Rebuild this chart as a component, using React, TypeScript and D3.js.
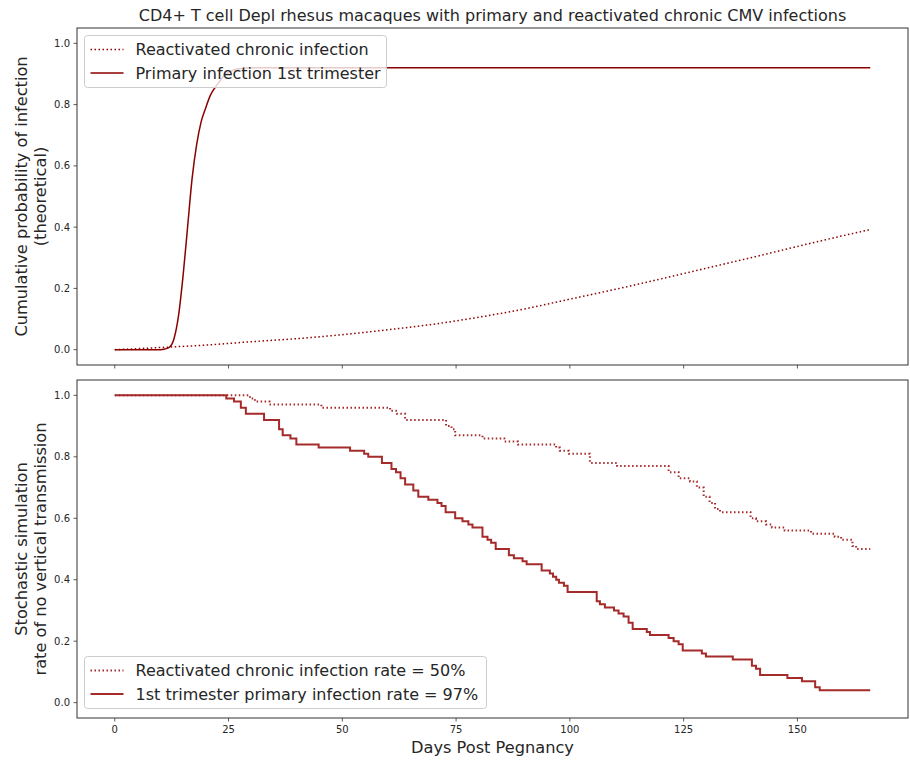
import React from "react";
import * as d3 from "d3";

// ---------- data ----------
const title = "CD4+ T cell Depl rhesus macaques with primary and reactivated chronic CMV infections";

// top panel: theoretical cumulative probability
const primaryDays = [0, 5, 10, 11, 12, 13, 14, 15, 16, 17, 18, 19, 20, 21, 22, 23, 24, 25, 26, 28, 30, 60, 100, 166];
const primaryProb = [0, 0, 0, 0.002, 0.008, 0.035, 0.11, 0.24, 0.4, 0.56, 0.67, 0.745, 0.79, 0.83, 0.855, 0.875, 0.895, 0.905, 0.912, 0.918, 0.92, 0.92, 0.92, 0.92];

const chronicDays = [0, 10, 20, 30, 40, 50, 60, 70, 80, 90, 100, 110, 120, 130, 140, 150, 160, 166];
const chronicProb = [0, 0.007, 0.015, 0.026, 0.036, 0.049, 0.065, 0.083, 0.106, 0.133, 0.165, 0.197, 0.231, 0.266, 0.301, 0.337, 0.372, 0.392];

// bottom panel: stochastic simulation (step changes)
const chronicStepDays = [0, 29.7, 30.8, 34.0, 45.4, 60.5, 62.0, 63.8, 72.8, 74.0, 74.8, 80.8, 85.6, 88.6, 97.0, 97.8, 99.8, 104.4, 110.4, 121.7, 123.9, 126.4, 127.9, 129.4, 130.7, 131.9, 133.0, 139.7, 140.9, 143.1, 144.4, 147.2, 153.0, 158.2, 159.6, 162.1, 162.9, 166];
const chronicStepVals = [1.0, 0.99, 0.98, 0.97, 0.96, 0.95, 0.94, 0.92, 0.9, 0.89, 0.87, 0.86, 0.85, 0.84, 0.83, 0.82, 0.81, 0.78, 0.77, 0.75, 0.73, 0.72, 0.7, 0.67, 0.65, 0.63, 0.62, 0.6, 0.59, 0.58, 0.57, 0.56, 0.55, 0.54, 0.53, 0.51, 0.5, 0.5];

const primaryStepDays = [0, 24.5, 26.2, 27.7, 28.8, 32.8, 36.1, 36.9, 38.6, 39.9, 44.8, 51.7, 54.8, 55.7, 58.7, 60.8, 61.8, 62.8, 63.8, 65.6, 66.7, 68.9, 70.9, 71.8, 72.7, 74.8, 76.4, 77.7, 78.6, 80.8, 81.9, 82.7, 83.7, 86.6, 87.7, 89.6, 90.5, 93.8, 95.6, 96.3, 97.0, 97.6, 98.7, 99.5, 105.9, 106.6, 107.7, 109.7, 110.7, 111.8, 112.9, 113.8, 116.9, 117.6, 121.7, 122.8, 123.9, 124.8, 129.0, 129.9, 135.8, 140.0, 140.9, 141.8, 147.8, 151.0, 153.9, 154.9, 166];
const primaryStepVals = [1.0, 0.99, 0.98, 0.96, 0.94, 0.92, 0.89, 0.87, 0.86, 0.84, 0.83, 0.82, 0.81, 0.8, 0.78, 0.76, 0.75, 0.73, 0.71, 0.69, 0.67, 0.66, 0.65, 0.64, 0.62, 0.6, 0.59, 0.58, 0.57, 0.54, 0.53, 0.52, 0.5, 0.48, 0.47, 0.46, 0.45, 0.43, 0.42, 0.41, 0.4, 0.39, 0.38, 0.36, 0.33, 0.32, 0.31, 0.3, 0.29, 0.28, 0.26, 0.24, 0.23, 0.22, 0.21, 0.2, 0.19, 0.17, 0.16, 0.15, 0.14, 0.12, 0.11, 0.09, 0.08, 0.07, 0.05, 0.04, 0.04];

const xTicks = [0, 25, 50, 75, 100, 125, 150];
const yTicks = [0, 0.2, 0.4, 0.6, 0.8, 1.0];

const topLegend = ["Reactivated chronic infection", "Primary infection 1st trimester"];
const bottomLegend = ["Reactivated chronic infection rate = 50%", "1st trimester primary infection rate = 97%"];

// ---------- layout ----------
const W = 910, H = 760;
const L = 77, R = 908;
const topY0 = 28, topY1 = 365;
const botY0 = 380, botY1 = 718;
const FONT = "DejaVu Sans, sans-serif";
const TOP_COLOR = "#8b0000";
const BOT_COLOR = "#a52a2a";
const AX = "#333333";
const LABEL_SIZE = 16.2;

const x = d3.scaleLinear().domain([-8.3, 174.3]).range([L, R]);
const yTop = d3.scaleLinear().domain([-0.05, 1.05]).range([topY1, topY0]);
const yBot = d3.scaleLinear().domain([-0.05, 1.05]).range([botY1, botY0]);

function zip(a: number[], b: number[]): [number, number][] {
  return a.map((d, i) => [d, b[i]]);
}

const smooth = (ys: d3.ScaleLinear<number, number>) =>
  d3.line<[number, number]>().x((d) => x(d[0])).y((d) => ys(d[1])).curve(d3.curveMonotoneX);
const step = (ys: d3.ScaleLinear<number, number>) =>
  d3.line<[number, number]>().x((d) => x(d[0])).y((d) => ys(d[1])).curve(d3.curveStepAfter);

function Frame({ y0, y1, ys, showXLabels }: { y0: number; y1: number; ys: d3.ScaleLinear<number, number>; showXLabels: boolean }) {
  return (
    <g>
      <rect x={L} y={y0} width={R - L} height={y1 - y0} fill="none" stroke={AX} strokeWidth={1} />
      {yTicks.map((t) => (
        <g key={"y" + t}>
          <line x1={L - 3.5} x2={L} y1={ys(t)} y2={ys(t)} stroke={AX} strokeWidth={0.8} />
          <text x={L - 7} y={ys(t)} dy="0.35em" textAnchor="end" fontSize={10} fill="#262626" fontFamily={FONT}>
            {t.toFixed(1)}
          </text>
        </g>
      ))}
      {xTicks.map((t) => (
        <g key={"x" + t}>
          <line x1={x(t)} x2={x(t)} y1={y1} y2={y1 + 3.5} stroke={AX} strokeWidth={0.8} />
          {showXLabels && (
            <text x={x(t)} y={y1 + 15} textAnchor="middle" fontSize={10} fill="#262626" fontFamily={FONT}>
              {t}
            </text>
          )}
        </g>
      ))}
    </g>
  );
}

function Legend({ x0, y0, w, labels, color, lw }: { x0: number; y0: number; w: number; labels: string[]; color: string; lw: number }) {
  return (
    <g>
      <rect x={x0} y={y0} width={w} height={52} rx={3} fill="white" fillOpacity={0.8} stroke="#cccccc" strokeWidth={1} />
      {labels.map((lab, i) => {
        const cy = y0 + 14 + i * 23.5;
        return (
          <g key={lab}>
            <line x1={x0 + 6} x2={x0 + 39} y1={cy} y2={cy} stroke={color} strokeWidth={lw} strokeDasharray={i === 0 ? "1.5,2.5" : undefined} />
            <text x={x0 + 51} y={cy} dy="0.35em" fontSize={16} fill="#262626" fontFamily={FONT}>
              {lab}
            </text>
          </g>
        );
      })}
    </g>
  );
}

export default function App() {
  const topPrimary = smooth(yTop)(zip(primaryDays, primaryProb)) || "";
  const topChronic = smooth(yTop)(zip(chronicDays, chronicProb)) || "";
  const botChronic = step(yBot)(zip(chronicStepDays, chronicStepVals)) || "";
  const botPrimary = step(yBot)(zip(primaryStepDays, primaryStepVals)) || "";
  const cx = (L + R) / 2;
  return (
    <svg width={W} height={H} style={{ position: "absolute", left: 0, top: 0, background: "white" }} fontFamily={FONT}>
      <rect x={0} y={0} width={W} height={H} fill="white" />
      <text x={cx} y={21} textAnchor="middle" fontSize={16} fill="#262626">{title}</text>

      {/* top panel */}
      <path d={topChronic} fill="none" stroke={TOP_COLOR} strokeWidth={1.5} strokeDasharray="1.5,2.5" />
      <path d={topPrimary} fill="none" stroke={TOP_COLOR} strokeWidth={1.5} />
      <Frame y0={topY0} y1={topY1} ys={yTop} showXLabels={false} />
      <Legend x0={84.5} y0={35.5} w={302} labels={topLegend} color={TOP_COLOR} lw={1.5} />
      <g transform={`translate(21, ${(topY0 + topY1) / 2}) rotate(-90)`}>
        <text textAnchor="middle" dy="0.35em" fontSize={LABEL_SIZE} fill="#262626">Cumulative probability of infection</text>
      </g>
      <g transform={`translate(40, ${(topY0 + topY1) / 2}) rotate(-90)`}>
        <text textAnchor="middle" dy="0.35em" fontSize={LABEL_SIZE} fill="#262626">(theoretical)</text>
      </g>

      {/* bottom panel */}
      <path d={botChronic} fill="none" stroke={BOT_COLOR} strokeWidth={2} strokeDasharray="1.5,2.5" />
      <path d={botPrimary} fill="none" stroke={BOT_COLOR} strokeWidth={2} />
      <Frame y0={botY0} y1={botY1} ys={yBot} showXLabels={true} />
      <Legend x0={84.5} y0={656.5} w={402} labels={bottomLegend} color={BOT_COLOR} lw={2} />
      <g transform={`translate(21, ${(botY0 + botY1) / 2}) rotate(-90)`}>
        <text textAnchor="middle" dy="0.35em" fontSize={LABEL_SIZE} fill="#262626">Stochastic simulation</text>
      </g>
      <g transform={`translate(40, ${(botY0 + botY1) / 2}) rotate(-90)`}>
        <text textAnchor="middle" dy="0.35em" fontSize={LABEL_SIZE} fill="#262626">rate of no vertical transmission</text>
      </g>
      <text x={cx} y={753} textAnchor="middle" fontSize={LABEL_SIZE} fill="#262626">Days Post Pegnancy</text>
    </svg>
  );
}
